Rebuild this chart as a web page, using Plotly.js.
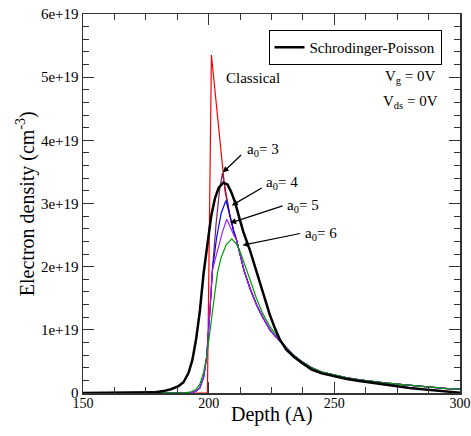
<!DOCTYPE html>
<html>
<head>
<meta charset="utf-8">
<script src="https://cdn.plot.ly/plotly-3.0.1.min.js"></script>
<style>html,body{margin:0;padding:0;background:#fff;}#chart{width:471px;height:436px;}</style>
</head>
<body>
<div id="chart"></div>
<script>
// Values in units of 1e19 cm^-3
const spX = [150, 174, 178, 182, 185, 188, 190, 192, 193.5, 195, 196.5, 198, 199.5, 201, 202.5, 204, 205.8, 207.5, 209, 210.5, 212, 213.8, 216.5, 218.5, 220.4, 222.4, 224.4, 226.4, 228.4, 231, 234, 237, 241, 245, 250, 255, 260, 265, 270, 275, 280, 285, 290, 295, 300];
const spY = [0, 0, 0.01, 0.03, 0.06, 0.11, 0.17, 0.32, 0.52, 0.85, 1.3, 1.9, 2.4, 2.8, 3.08, 3.25, 3.33, 3.3, 3.18, 3.02, 2.8, 2.55, 2.25, 2.0, 1.74, 1.48, 1.23, 1.02, 0.84, 0.68, 0.57, 0.48, 0.37, 0.31, 0.26, 0.22, 0.19, 0.16, 0.13, 0.1, 0.08, 0.06, 0.04, 0.02, 0.005];

const riseX = [150, 190, 193, 195, 196.5, 198, 199.2, 200.5, 201.5];
const riseY = [0, 0, 0.005, 0.03, 0.08, 0.25, 0.57, 1.3, 1.95];

const classicalX = [150, 199.5, 201.1, 206.5, 208.5, 210];
const classicalY = [0, 0, 5.35, 3.2, 2.8, 2.55];

const a3PeakX = [203, 204.3, 205.5, 207, 208.5, 210];
const a3PeakY = [2.7, 3.2, 3.48, 3.12, 2.8, 2.55];
const a4PeakX = [203.2, 205, 206.9, 208.5, 210];
const a4PeakY = [2.47, 2.85, 3.05, 2.78, 2.56];
const a5PeakX = [202.5, 203.8, 205.5, 207.2, 208.5, 210];
const a5PeakY = [2.1, 2.31, 2.55, 2.75, 2.62, 2.5];

const fallX = [211.1, 212.5, 214, 216.5, 219, 221.5, 224.4, 226.5, 228.4];
const fallY = [2.42, 2.2, 1.95, 1.65, 1.4, 1.2, 1.0, 0.9, 0.82];

const a6X = [150, 188, 191, 193, 195, 196.5, 198, 199.2, 200.5, 202, 203.5, 205, 207, 209.2, 211, 212.5, 214, 216.5, 219, 221.5, 224.4, 226.5, 228.4];
const a6Y = [0, 0, 0.005, 0.02, 0.06, 0.14, 0.33, 0.57, 1.0, 1.5, 1.9, 2.15, 2.35, 2.44, 2.36, 2.24, 2.08, 1.79, 1.5, 1.26, 1.05, 0.93, 0.84];

const tailX = [231, 234, 237, 241, 245, 250, 255, 260, 265, 270, 275, 280, 285, 290, 295, 300];
const tailY = [0.7, 0.59, 0.5, 0.4, 0.33, 0.28, 0.24, 0.21, 0.18, 0.16, 0.14, 0.12, 0.1, 0.085, 0.07, 0.06];

const yTickVals = [0, 1, 2, 3, 4, 5, 6];
const yTickText = ['0', '1e+19', '2e+19', '3e+19', '4e+19', '5e+19', '6e+19'];
const xTickVals = [150, 200, 250, 300];
const xTickText = ['150', '200', '250', '300'];

const FONT = '"Liberation Serif", "DejaVu Serif", serif';

function tr(x, y, color, width, name, show) {
  return {x: x, y: y, type: 'scatter', mode: 'lines', name: name || '', showlegend: !!show,
          line: {color: color, width: width}, hoverinfo: 'skip'};
}

const traces = [
  tr(classicalX.concat(fallX, tailX), classicalY.concat(fallY, tailY), '#ff0000', 1.2),
  tr(riseX.concat(a3PeakX, fallX, tailX), riseY.concat(a3PeakY, fallY, tailY), '#7a1f5c', 1.2),
  tr(riseX.concat(a4PeakX, fallX, tailX), riseY.concat(a4PeakY, fallY, tailY), '#0000ff', 1.2),
  tr(riseX.concat(a5PeakX, fallX, tailX), riseY.concat(a5PeakY, fallY, tailY), '#a020f0', 1.2),
  tr(a6X.concat(tailX), a6Y.concat(tailY), '#00a000', 1.2),
  tr(spX, spY, '#000000', 2.5, 'Schrodinger-Poisson', true)
];

const txt = (t, x, y) => ({text: t, x: x, y: y, xref: 'x', yref: 'y', showarrow: false,
  font: {family: FONT, size: 15, color: '#000'}});
const arr = (x, y, ax, ay) => ({text: '', x: x, y: y, ax: ax, ay: ay, xref: 'x', yref: 'y',
  axref: 'x', ayref: 'y', showarrow: true, arrowhead: 2, arrowsize: 1, arrowwidth: 1.2, arrowcolor: '#000'});

const annotations = [
  txt('Classical', 217.6, 4.98),
  txt('a<sub>0</sub>= 3', 221.6, 3.85),
  txt('a<sub>0</sub>= 4', 229.2, 3.32),
  txt('a<sub>0</sub>= 5', 237.5, 2.96),
  txt('a<sub>0</sub>= 6', 244.7, 2.52),
  txt('V<sub>g</sub> = 0V', 280.5, 5.0),
  txt('V<sub>ds</sub> = 0V', 280.5, 4.6),
  arr(205.6, 3.49, 213.5, 3.79),
  arr(209.2, 2.97, 221.7, 3.26),
  arr(208.5, 2.69, 230, 2.97),
  arr(213.5, 2.34, 237, 2.53),
  {text: 'Depth (A)', xref: 'paper', yref: 'paper', x: 0.5, y: -0.058, xanchor: 'center', yanchor: 'middle',
   showarrow: false, font: {family: FONT, size: 20, color: '#000'}},
  {text: 'Electron density (cm<sup>-3</sup>)', xref: 'paper', yref: 'paper', x: -0.152, y: 0.5,
   xanchor: 'center', yanchor: 'middle', textangle: -90, showarrow: false,
   font: {family: FONT, size: 20, color: '#000'}}
];

const axisCommon = {
  showgrid: false, zeroline: false, showline: true, linecolor: '#333', linewidth: 1.5,
  mirror: 'ticks', ticks: 'inside', ticklen: 11, tickwidth: 1.2, tickcolor: '#333',
  tickmode: 'array', ticklabeloverflow: 'allow'
};

const layout = {
  width: 471, height: 436,
  margin: {l: 83, r: 11, t: 14, b: 43},
  paper_bgcolor: '#fff', plot_bgcolor: '#fff',
  showlegend: true,
  legend: {x: 0.951, y: 0.958, xanchor: 'right', yanchor: 'top', bgcolor: '#fff',
           bordercolor: '#000', borderwidth: 1, font: {family: FONT, size: 15, color: '#000'}},
  xaxis: Object.assign({}, axisCommon, {
    range: [150, 300], tickvals: xTickVals, ticktext: xTickText,
    tickfont: {family: FONT, size: 14, color: '#000'}, ticklabelstandoff: -3,
    minor: {dtick: 12.5, tick0: 150, ticklen: 6, tickwidth: 1, tickcolor: '#333', ticks: 'inside'}
  }),
  yaxis: Object.assign({}, axisCommon, {
    range: [0, 6], tickvals: yTickVals, ticktext: yTickText,
    tickfont: {family: FONT, size: 15, color: '#000'},
    minor: {dtick: 0.2, tick0: 0, ticklen: 6, tickwidth: 1, tickcolor: '#333', ticks: 'inside'}
  }),
  annotations: annotations
};

Plotly.newPlot('chart', traces, layout, {displayModeBar: false, staticPlot: true});
</script>
</body>
</html>
